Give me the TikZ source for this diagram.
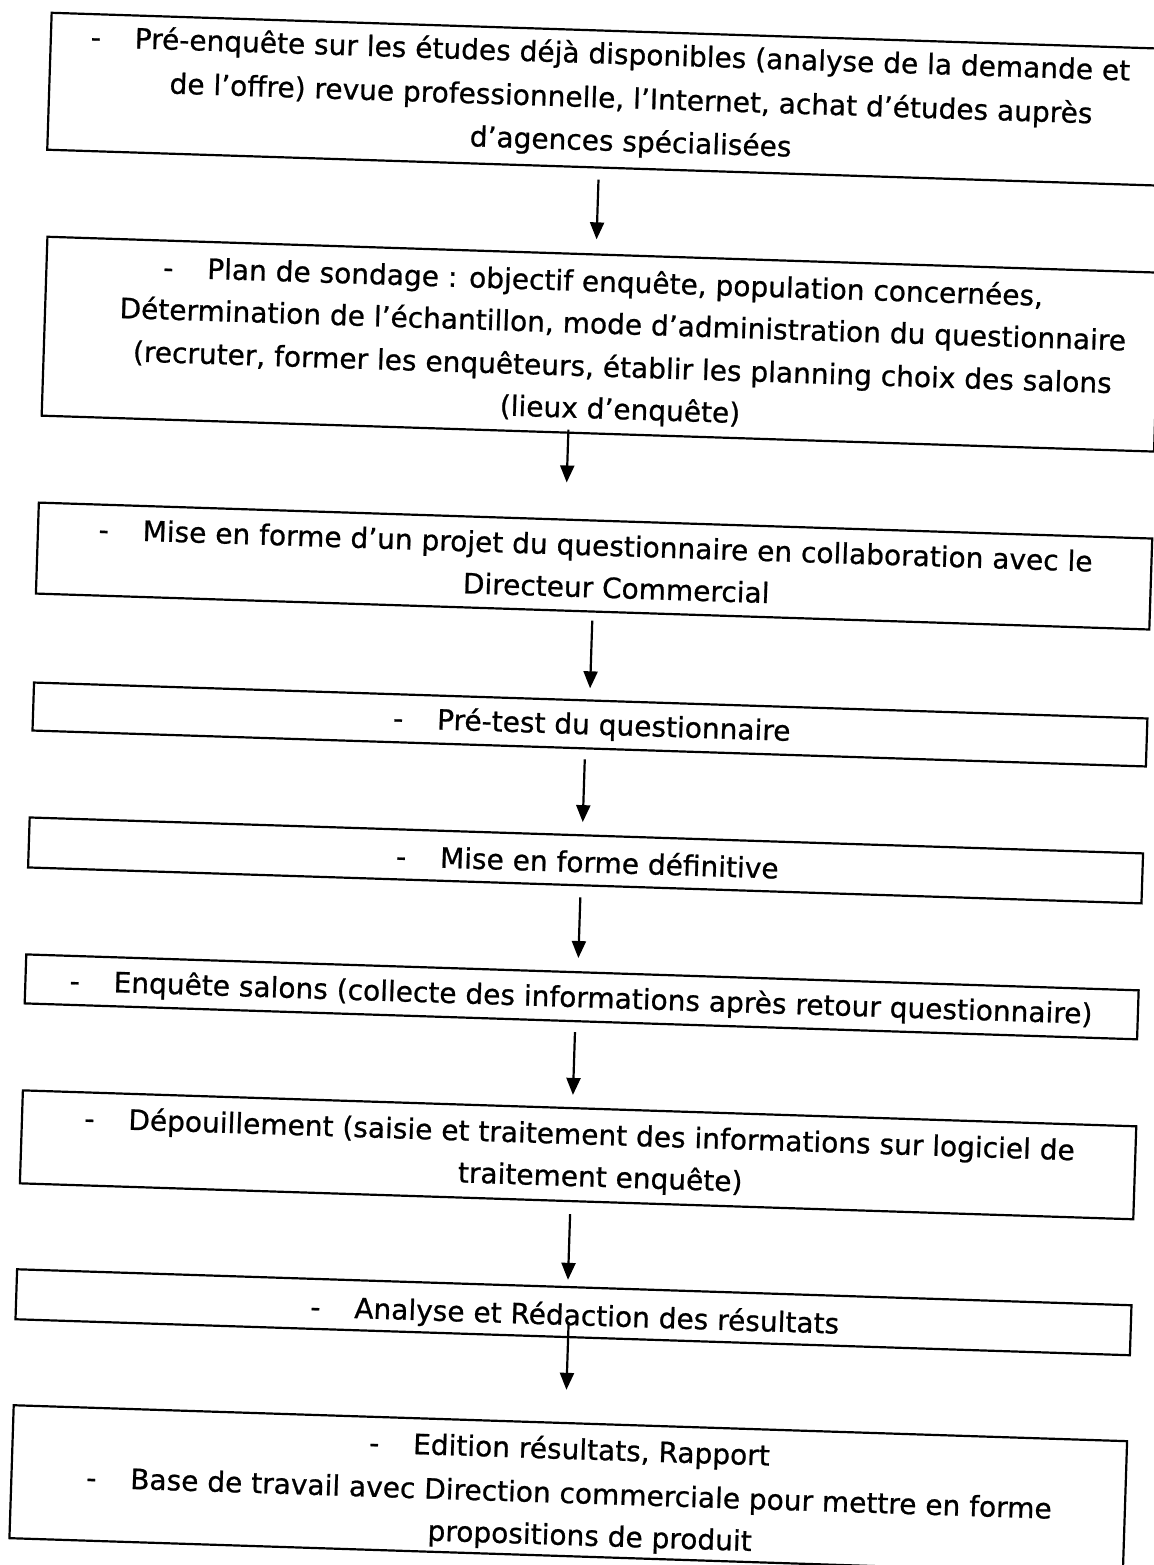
\documentclass[tikz,border=0pt]{standalone}
\usepackage{fontspec}
\setmainfont[FakeBold=0.8]{DejaVu Sans}
\usetikzlibrary{arrows.meta,calc}
\newcommand{\dashlead}{\makebox[22pt][l]{-}}
\begin{document}
\begin{tikzpicture}[x=0.5pt,y=-0.5pt,
  box/.style={draw,line width=1.1pt,rectangle,inner sep=0pt,anchor=north west},
  txt/.style={anchor=base,inner sep=0pt,font=\fontsize{14pt}{17pt}\selectfont},
  arr/.style={line width=1.1pt,-{Triangle[length=8.5pt,width=7pt]}}]
\useasboundingbox (0,0) rectangle (1154,1565);
\fill[white] (0,0) rectangle (1154,1565);
\clip (0,0) rectangle (1154,1565);
\begin{scope}[rotate around={-1.85:(577,782)}, transform shape]
% boxes
\node[box, minimum width=567pt,   minimum height=68.5pt] (b1) at (26,29)   {};
\node[box, minimum width=556.5pt, minimum height=89.5pt] (b2) at (29,253)  {};
\node[box, minimum width=557pt,   minimum height=45.5pt] (b3) at (29,519)  {};
\node[box, minimum width=557pt,   minimum height=24pt]   (b4) at (30,699)  {};
\node[box, minimum width=557pt,   minimum height=25pt]   (b5) at (30,834)  {};
\node[box, minimum width=556.5pt, minimum height=24.5pt] (b6) at (31,971)  {};
\node[box, minimum width=557pt,   minimum height=46.5pt] (b7) at (32,1107) {};
\node[box, minimum width=557.5pt, minimum height=25pt]   (b8) at (32,1286) {};
\node[box, minimum width=557pt,   minimum height=66.5pt] (b9) at (33,1422) {};
% texts
\node[txt] (t1a) at (587,63)  {\dashlead Pré-enquête sur les études déjà disponibles (analyse de la demande et};
\node[txt] (t1b) at (609,107) {de l’offre) revue professionnelle, l’Internet, achat d’études auprès};
\node[txt] (t1c) at (610,150) {d’agences spécialisées};
\node[txt] (t2a) at (587,291) {\dashlead Plan de sondage : objectif enquête, population concernées,};
\node[txt] (t2b) at (608,333) {Détermination de l’échantillon, mode d’administration du questionnaire};
\node[txt] (t2c) at (609,376) {(recruter, former les enquêteurs, établir les planning choix des salons};
\node[txt] (t2d) at (608,418) {(lieux d’enquête)};
\node[txt] (t3a) at (588,555) {\dashlead Mise en forme d’un projet du questionnaire en collaboration avec le};
\node[txt] (t3b) at (610,597) {Directeur Commercial};
\node[txt] (t4)  at (590,734) {\dashlead Pré-test du questionnaire};
\node[txt] (t5)  at (590,872) {\dashlead Mise en forme définitive};
\node[txt] (t6)  at (588,1007) {\dashlead Enquête salons (collecte des informations après retour questionnaire)};
\node[txt] (t7a) at (591,1144) {\dashlead Dépouillement (saisie et traitement des informations sur logiciel de};
\node[txt] (t7b) at (613,1186) {traitement enquête)};
\node[txt] (t8)  at (592,1325) {\dashlead Analyse et Rédaction des résultats};
\node[txt] (t9a) at (591,1459) {\dashlead Edition résultats, Rapport};
\node[txt] (t9b) at (592,1503) {\dashlead Base de travail avec Direction commerciale pour mettre en forme};
\node[txt] (t9c) at (614,1545) {propositions de produit};
% arrows
\draw[arr] ($(b1.south)+(-15,11)$)   -- ($(b2.north)+(-7.5,-14)$);
\draw[arr] ($(b2.south)+(-29.5,-4)$) -- ($(b3.north)+(-30,-36)$);
\draw[arr] ($(b3.south)+(0,8)$)      -- ($(b4.north)+(-1,-11)$);
\draw[arr] ($(b4.south)+(-4,10)$)    -- ($(b5.north)+(-4,-12)$);
\draw[arr] ($(b5.south)+(-4,11)$)    -- ($(b6.north)+(-4.5,-13)$);
\draw[arr] ($(b6.south)+(-5.5,10)$)  -- ($(b7.north)+(-7,-12)$);
\draw[arr] ($(b7.south)+(-6,12)$)    -- ($(b8.north)+(-6.5,-6)$);
\draw[arr] ($(b8.south)+(-4.5,-16)$) -- ($(b9.north)+(-5,-32)$);
\end{scope}
\end{tikzpicture}
\end{document}
